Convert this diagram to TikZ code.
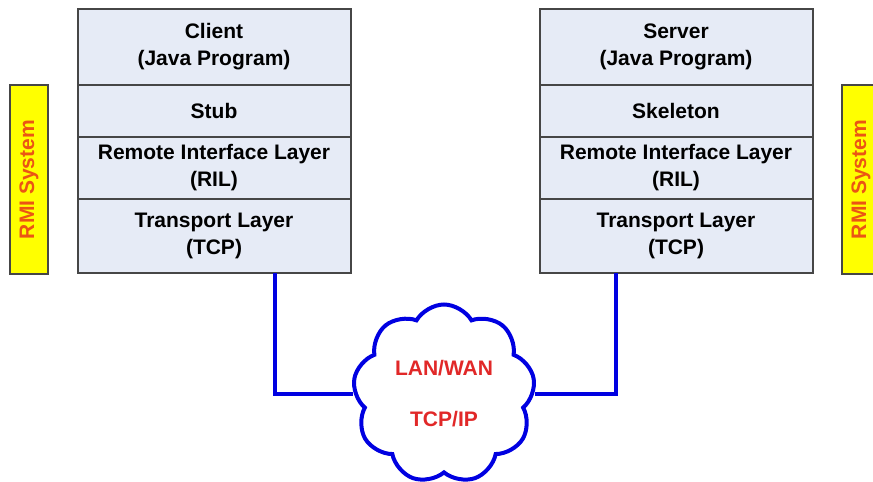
\documentclass[tikz,border=0pt]{standalone}
\usepackage{fontspec}
\setmainfont{Liberation Sans}
\usetikzlibrary{positioning,shapes.symbols}
\definecolor{layerfill}{RGB}{230,235,246}
\definecolor{edgegray}{RGB}{70,70,70}
\definecolor{netblue}{RGB}{0,0,225}
\definecolor{rmiyellow}{RGB}{255,255,0}
\definecolor{rmitext}{RGB}{235,85,20}
\definecolor{netred}{RGB}{225,40,40}

\begin{document}
\begin{tikzpicture}[x=0.5pt,y=-0.5pt,
  font=\fontsize{10.5}{13.5}\selectfont\bfseries,
  layer/.style={draw=edgegray,line width=1pt,fill=layerfill,minimum width=136.5pt,inner sep=0pt,outer sep=0pt,align=center},
  rmibar/.style={draw=edgegray,line width=1pt,fill=rmiyellow,rotate=90,minimum width=94.5pt,minimum height=19pt,inner sep=0pt,text=rmitext},
  link/.style={netblue,line width=2pt}]
  \useasboundingbox (0,0) rectangle (873,482);
  \node[layer,minimum height=38pt] (capp) at (214,47) {Client\\(Java Program)};
  \node[layer,minimum height=26pt,below=0pt of capp] (cstub) {Stub};
  \node[layer,minimum height=31pt,below=0pt of cstub] (cril) {Remote Interface Layer\\(RIL)};
  \node[layer,minimum height=37pt,below=0pt of cril] (ctcp) {Transport Layer\\(TCP)};
  \node[layer,minimum height=38pt] (sapp) at (676,47) {Server\\(Java Program)};
  \node[layer,minimum height=26pt,below=0pt of sapp] (sskel) {Skeleton};
  \node[layer,minimum height=31pt,below=0pt of sskel] (sril) {Remote Interface Layer\\(RIL)};
  \node[layer,minimum height=37pt,below=0pt of sril] (stcp) {Transport Layer\\(TCP)};
  \node[rmibar] (lrmi) at (29,179.5) {RMI System};
  \node[rmibar] (rrmi) at (861,179.5) {RMI System};
  \node[cloud,draw=netblue,line width=2pt,fill=white,cloud puffs=9,cloud puff arc=120,
    minimum width=91pt,minimum height=85pt,text=netred,align=center] (net) at (444,394)
    {LAN/WAN\\[12pt]TCP/IP};
  \coordinate (cport) at ([xshift=30.5pt]ctcp.south);
  \coordinate (sport) at ([xshift=-30pt]stcp.south);
  \draw[link] (cport) |- (net.west);
  \draw[link] (sport) |- (net.east);
\end{tikzpicture}
\end{document}
